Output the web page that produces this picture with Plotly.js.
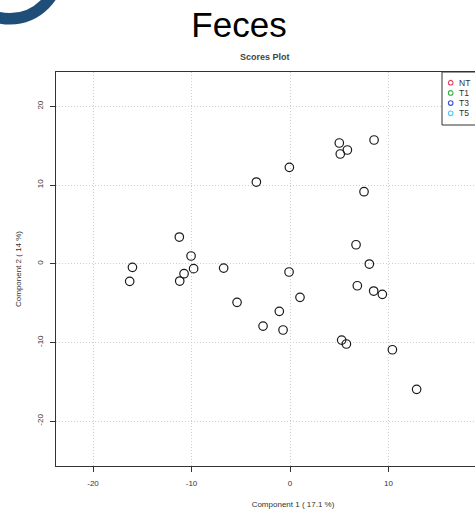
<!DOCTYPE html>
<html>
<head>
<meta charset="utf-8">
<script src="https://cdn.plot.ly/plotly-3.0.1.min.js"></script>
<style>
html,body{margin:0;padding:0;overflow:hidden;background:#fff;width:475px;height:510px;}
#chart{width:540px;height:510px;}
</style>
</head>
<body>
<div id="chart"></div>
<script>
// Scores on component 1 and component 2
var pc1 = [-0.07, -3.42, -11.24, -10.05, -16.0, -9.79, -6.74, -10.76, -0.10, -16.28,
           -11.2, 1.01, -5.38, -1.09, -2.74, -0.71, 8.53, 5.0, 5.82, 5.1,
           7.51, 6.7, 8.05, 6.83, 8.49, 9.37, 5.24, 5.72, 10.39, 12.85];
var pc2 = [12.25, 10.38, 3.39, 0.98, -0.46, -0.63, -0.55, -1.27, -1.05, -2.24,
           -2.2, -4.27, -4.91, -6.05, -7.92, -8.42, 15.72, 15.34, 14.45, 13.94,
           9.15, 2.41, -0.04, -2.8, -3.47, -3.89, -9.7, -10.2, -10.93, -15.96];
var groups = ["NT", "T1", "T3", "T5"];
var groupColors = ["#e8405f", "#3cb043", "#3c50d8", "#55c8f0"];
var xTicks = [-20, -10, 0, 10];
var yTicks = [-20, -10, 0, 10, 20];

var FONT = "Arial, Liberation Sans, sans-serif";
var L = 56, T = 72, PW = 474, PH = 394;

var traces = [{
  type: "scatter", mode: "markers", x: pc1, y: pc2, showlegend: false,
  marker: {symbol: "circle-open", size: 8.5, color: "#1a1a1a", line: {width: 1.2, color: "#1a1a1a"}},
  hoverinfo: "x+y"
}];

var axisCommon = {
  showline: true, mirror: true, linecolor: "#333", linewidth: 1.2,
  ticks: "outside", ticklen: 5, tickcolor: "#333", tickwidth: 1,
  showgrid: true, gridcolor: "#cfcfcf", griddash: "1px,2px", gridwidth: 1,
  zeroline: false, tickmode: "array",
  tickfont: {family: FONT, size: 8, color: "#333"}
};

// Hand-drawn legend box (shapes + annotations), matching the compact R legend
var shapes = [{
  type: "circle", xref: "paper", yref: "paper", xsizemode: "pixel", ysizemode: "pixel",
  xanchor: 0, yanchor: 1,
  x0: -46 - 48.75, x1: -46 + 48.75, y0: 102 - 48.75, y1: 102 + 48.75,
  line: {color: "#1f4e79", width: 11.5}, fillcolor: "rgba(0,0,0,0)", layer: "above"
}, {
  type: "rect", xref: "paper", yref: "paper",
  x0: (442 - L) / PW, x1: (500 - L) / PW, y0: 1 - (125 - T) / PH, y1: 1,
  line: {color: "#333", width: 1}, fillcolor: "#fff", layer: "above"
}];
var annotations = [{
  text: "<b>Scores Plot</b>", xref: "paper", yref: "paper",
  x: (265 - L) / PW, y: 1 + (T - 57) / PH, xanchor: "center", yanchor: "middle",
  showarrow: false, font: {family: FONT, size: 9, color: "#444"}
}];
groups.forEach(function (g, i) {
  var cy = 82.7 + i * 10.2;
  var py = 1 - (cy - T) / PH;
  shapes.push({
    type: "circle", xref: "paper", yref: "paper", xsizemode: "pixel", ysizemode: "pixel",
    xanchor: (450.7 - L) / PW, yanchor: py, x0: -2.3, x1: 2.3, y0: -2.3, y1: 2.3,
    line: {color: groupColors[i], width: 1.1}, fillcolor: "rgba(0,0,0,0)", layer: "above"
  });
  annotations.push({
    text: g, xref: "paper", yref: "paper", x: (457 - L) / PW, y: py,
    xanchor: "left", yanchor: "middle", showarrow: false,
    font: {family: FONT, size: 8.5, color: "#333"}
  });
});

var layout = {
  width: 540, height: 510,
  margin: {l: L, r: 540 - L - PW, t: T, b: 510 - T - PH},
  paper_bgcolor: "#fff", plot_bgcolor: "#fff",
  font: {family: FONT, color: "#333"},
  showlegend: false,
  title: {text: "Feces", x: 239 / 540, xanchor: "center", y: 1 - 25 / 510, yanchor: "middle",
          font: {family: FONT, size: 35, color: "#000"}},
  xaxis: Object.assign({}, axisCommon, {
    range: [-23.76, 24.36], tickvals: xTicks, ticktext: xTicks.map(String), ticklabelstandoff: 4,
    title: {text: "Component 1 ( 17.1 %)", standoff: 14, font: {family: FONT, size: 8, color: "#333"}}
  }),
  yaxis: Object.assign({}, axisCommon, {
    range: [-25.7, 24.36], tickvals: yTicks, ticktext: yTicks.map(String), tickangle: -90,
    ticklabelstandoff: 4,
    title: {text: "Component 2 ( 14 %)", standoff: 12, font: {family: FONT, size: 8, color: "#333"}}
  }),
  annotations: annotations,
  shapes: shapes
};

Plotly.newPlot("chart", traces, layout, {displayModeBar: false, staticPlot: true});
</script>
</body>
</html>
